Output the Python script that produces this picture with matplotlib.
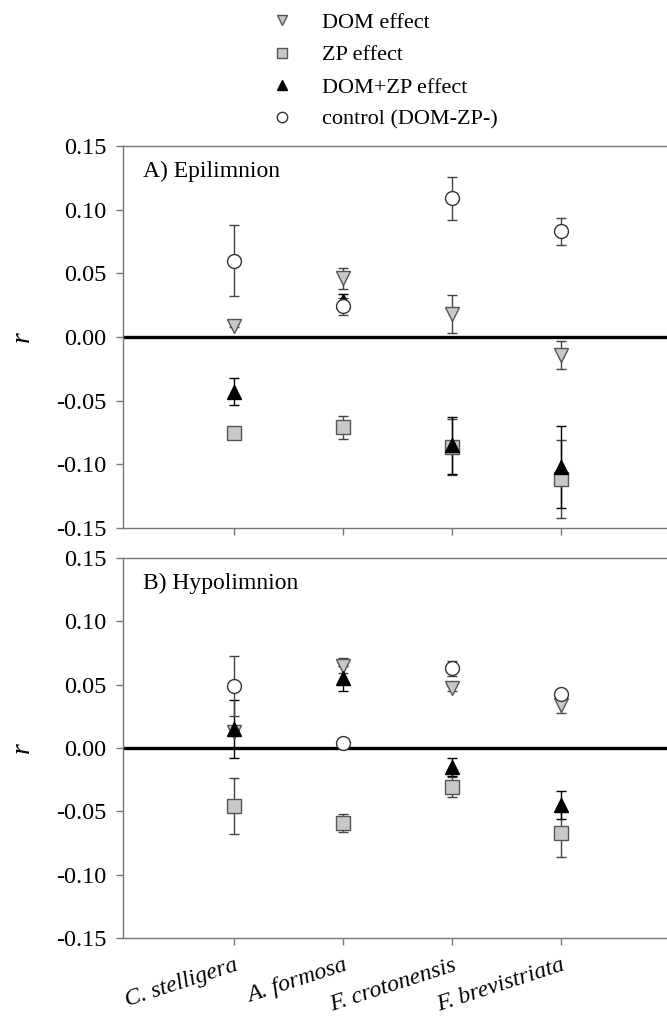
import matplotlib
matplotlib.use("Agg")
import matplotlib.pyplot as plt

plt.rcParams['font.family'] = ['Liberation Serif', 'DejaVu Serif']
plt.rcParams['axes.unicode_minus'] = False

# especies (eixo x)
species = ['C. stelligera', 'A. formosa', 'F. crotonensis', 'F. brevistriata']
xpos = [1, 2, 3, 4]

# A) Epilimnion
dom_epi = [0.009, 0.046, 0.018, -0.014]
dom_epi_err = [0.001, 0.008, 0.015, 0.011]
zp_epi = [-0.075, -0.071, -0.086, -0.1115]
zp_epi_err = [0.001, 0.009, 0.022, 0.0305]
domzp_epi = [-0.043, 0.028, -0.085, -0.102]
domzp_epi_err = [0.0107, 0.006, 0.0225, 0.032]
ctrl_epi = [0.060, 0.024, 0.109, 0.083]
ctrl_epi_err = [0.0276, 0.0066, 0.017, 0.0104]

# B) Hypolimnion
dom_hyp = [0.013, 0.065, 0.047, 0.034]
dom_hyp_err = [0.003, 0.006, 0.002, 0.006]
zp_hyp = [-0.046, -0.059, -0.031, -0.067]
zp_hyp_err = [0.022, 0.007, 0.008, 0.019]
domzp_hyp = [0.015, 0.055, -0.015, -0.045]
domzp_hyp_err = [0.023, 0.010, 0.007, 0.011]
ctrl_hyp = [0.049, 0.004, 0.063, 0.043]
ctrl_hyp_err = [0.024, 0.003, 0.006, 0.003]

yticks = [-0.15, -0.10, -0.05, 0.00, 0.05, 0.10, 0.15]
legend_labels = ['DOM effect', 'ZP effect', 'DOM+ZP effect', 'control (DOM-ZP-)']

fig = plt.figure(figsize=(6.67, 10.19), dpi=100)
axA = fig.add_axes([0.1844, 0.4818, 0.8156, 0.3749])
axB = fig.add_axes([0.1844, 0.0795, 0.8156, 0.3729])

spine_col = '#777777'
gray = '#c8c8c8'
edge = '#555555'


def desenhar_painel(ax, dados, titulo):
    estilos = [
        dict(marker='v', mfc=gray, mec=edge, ecol='#444444'),
        dict(marker='s', mfc=gray, mec=edge, ecol='#444444'),
        dict(marker='^', mfc='black', mec='black', ecol='black'),
        dict(marker='o', mfc='white', mec='#333333', ecol='#444444'),
    ]
    ax.axhline(0, color='black', lw=2.4, zorder=1)
    handles = []
    for (vals, errs), st in zip(dados, estilos):
        ax.errorbar(xpos, vals, yerr=errs, fmt='none', ecolor=st['ecol'],
                    elinewidth=1.0, capsize=3.6, capthick=1.0, zorder=2)
        h, = ax.plot(xpos, vals, linestyle='none', marker=st['marker'],
                     markersize=10, markerfacecolor=st['mfc'],
                     markeredgecolor=st['mec'], markeredgewidth=1.0, zorder=3)
        handles.append(h)

    ax.set_xlim(-0.02, 4.97)
    ax.set_ylim(-0.15, 0.15)
    ax.set_yticks(yticks)
    ax.set_yticklabels([f'{v:.2f}' for v in yticks], fontsize=17.5)
    ax.set_xticks(xpos)
    ax.spines['right'].set_visible(False)
    for s in ['left', 'top', 'bottom']:
        ax.spines[s].set_color(spine_col)
        ax.spines[s].set_linewidth(1.0)
    ax.tick_params(direction='out', length=5, width=1.0, color=spine_col, pad=7)
    ax.set_ylabel('r', fontsize=20, style='italic', labelpad=15)
    ax.text(0.037, 0.962, titulo, transform=ax.transAxes, fontsize=17,
            ha='left', va='top')
    return handles


hA = desenhar_painel(axA, [(dom_epi, dom_epi_err), (zp_epi, zp_epi_err),
                           (domzp_epi, domzp_epi_err), (ctrl_epi, ctrl_epi_err)],
                     'A) Epilimnion')
desenhar_painel(axB, [(dom_hyp, dom_hyp_err), (zp_hyp, zp_hyp_err),
                      (domzp_hyp, domzp_hyp_err), (ctrl_hyp, ctrl_hyp_err)],
                'B) Hypolimnion')

axA.set_xticklabels([])
axB.set_xticklabels(species, fontsize=17, style='italic', rotation=18,
                    ha='right', rotation_mode='anchor')

fig.legend(hA, legend_labels, loc='upper left', bbox_to_anchor=(0.403, 0.99),
           frameon=False, fontsize=16, handlelength=1.0, handletextpad=1.3,
           labelspacing=0.53, borderpad=0.1, borderaxespad=0, markerscale=0.75)

fig.savefig('out.png', dpi=100)
